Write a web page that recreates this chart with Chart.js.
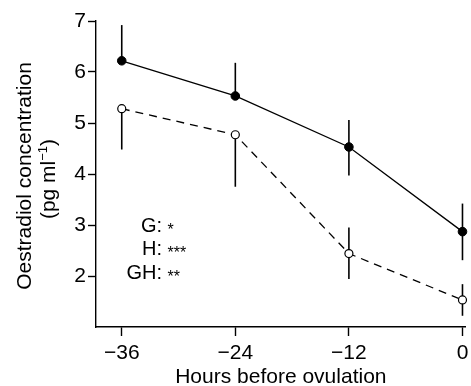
<!DOCTYPE html>
<html>
<head>
<meta charset="utf-8">
<script src="https://cdn.jsdelivr.net/npm/chart.js@4.4.0/dist/chart.umd.min.js"></script>
<style>
  html, body { margin: 0; padding: 0; background: #fff; overflow: hidden; }
  #wrap { width: 471px; height: 386px; position: relative; }
</style>
</head>
<body>
<div id="wrap"><canvas id="chart" width="471" height="386"></canvas></div>
<script>
// hours before ovulation
const hours = [-36, -24, -12, 0];

// filled circles, solid line
const filledMean = [6.22, 5.53, 4.53, 2.87];
const filledHigh = [6.92, 6.18, 5.06, 3.42];
const filledLow = [6.22, 5.53, 3.97, 2.31];

// open circles, dashed line
const openMean = [5.28, 4.77, 2.44, 1.53];
const openHigh = [5.28, 4.77, 2.95, 1.84];
const openLow = [4.48, 3.75, 1.94, 1.22];

const xTicks = [-36, -24, -12, 0];
const yTicks = [2, 3, 4, 5, 6, 7];

const statLabels = ["G:", "H:", "GH:"];
const statStars = ["*", "***", "**"];

const FONT = "'Liberation Sans', Arial, sans-serif";

const toPoints = (ys) => hours.map((h, i) => ({ x: h, y: ys[i] }));
const minusFmt = (v) => (v < 0 ? "\u2212" + Math.abs(v) : String(v));

// vertical error bars, drawn under the markers
const errorBars = {
  id: "errorBars",
  beforeDatasetsDraw(chart) {
    const { ctx, scales: { x, y } } = chart;
    ctx.save();
    ctx.strokeStyle = "#000";
    ctx.lineWidth = 1.6;
    chart.data.datasets.forEach((ds) => {
      ds.errLow.forEach((lo, i) => {
        const hi = ds.errHigh[i];
        if (hi === lo) return;
        const px = x.getPixelForValue(hours[i]);
        ctx.beginPath();
        ctx.moveTo(px, y.getPixelForValue(lo));
        ctx.lineTo(px, y.getPixelForValue(hi));
        ctx.stroke();
      });
    });
    ctx.restore();
  }
};

// y title with superscript, plus the G/H/GH stats text
const extraText = {
  id: "extraText",
  afterDraw(chart) {
    const { ctx, chartArea } = chart;
    ctx.save();
    ctx.fillStyle = "#000";

    // y axis title
    const cy = (chartArea.top + chartArea.bottom) / 2 + 2;
    ctx.translate(25, cy);
    ctx.rotate(-Math.PI / 2);
    ctx.textBaseline = "middle";
    ctx.textAlign = "center";
    ctx.font = "21px " + FONT;
    ctx.fillText("Oestradiol concentration", 0, 0);
    const a = "(pg ml", sup = "\u22121", b = ")";
    const wa = ctx.measureText(a).width, wb = ctx.measureText(b).width;
    ctx.font = "13px " + FONT;
    const ws = ctx.measureText(sup).width;
    let sx = -(wa + ws + wb) / 2 - 3;
    ctx.textAlign = "left";
    ctx.font = "21px " + FONT;
    ctx.fillText(a, sx, 24);
    ctx.font = "13px " + FONT;
    ctx.fillText(sup, sx + wa, 18);
    ctx.font = "21px " + FONT;
    ctx.fillText(b, sx + wa + ws, 24);
    ctx.setTransform(1, 0, 0, 1, 0, 0);

    // stats
    const rows = [231.5, 255, 278.5];
    statLabels.forEach((t, i) => {
      ctx.textBaseline = "alphabetic";
      ctx.textAlign = "right";
      ctx.font = "20px " + FONT;
      ctx.fillText(t, 162, rows[i]);
      ctx.textAlign = "left";
      ctx.font = "16px " + FONT;
      ctx.fillText(statStars[i], 167.5, rows[i] + 3);
    });
    ctx.restore();
  }
};

new Chart(document.getElementById("chart"), {
  type: "line",
  data: {
    datasets: [
      {
        data: toPoints(openMean),
        errLow: openLow,
        errHigh: openHigh,
        borderColor: "#000",
        borderWidth: 1.3,
        borderDash: [8, 6],
        pointRadius: 4,
        pointBorderWidth: 1.2,
        pointBackgroundColor: "#fff",
        pointBorderColor: "#000",
        clip: false
      },
      {
        data: toPoints(filledMean),
        errLow: filledLow,
        errHigh: filledHigh,
        borderColor: "#000",
        borderWidth: 1.3,
        pointRadius: 4.3,
        pointBorderWidth: 1,
        pointBackgroundColor: "#000",
        pointBorderColor: "#000",
        clip: false
      }
    ]
  },
  options: {
    responsive: false,
    animation: false,
    layout: { padding: { top: 21, left: 0, right: 0, bottom: 0 } },
    plugins: { legend: { display: false }, tooltip: { enabled: false } },
    scales: {
      x: {
        type: "linear",
        min: -38.72,
        max: 0.34,
        afterBuildTicks: (axis) => { axis.ticks = xTicks.map((v) => ({ value: v })); },
        afterFit: (axis) => { axis.height = 59; axis.paddingLeft = 0; axis.paddingRight = 0; },
        border: { color: "#000", width: 1.4 },
        grid: { drawOnChartArea: false, drawTicks: true, tickLength: 9, tickColor: "#000", tickWidth: 1.4 },
        ticks: {
          color: "#000",
          padding: 5,
          maxRotation: 0,
          autoSkip: false,
          font: { family: FONT, size: 21 },
          callback: (v) => minusFmt(v)
        },
        title: {
          display: true,
          text: "Hours before ovulation",
          color: "#000",
          padding: { top: 0, bottom: -4 },
          font: { family: FONT, size: 21 }
        }
      },
      y: {
        min: 1,
        max: 7,
        afterBuildTicks: (axis) => { axis.ticks = yTicks.map((v) => ({ value: v })); },
        afterFit: (axis) => { axis.width = 96; axis.paddingTop = 0; axis.paddingBottom = 0; },
        border: { color: "#000", width: 1.4 },
        grid: { drawOnChartArea: false, drawTicks: true, tickLength: 8, tickColor: "#000", tickWidth: 1.4 },
        ticks: {
          color: "#000",
          padding: 2,
          autoSkip: false,
          font: { family: FONT, size: 21 },
          callback: (v) => minusFmt(v)
        }
      }
    }
  },
  plugins: [errorBars, extraText]
});
</script>
</body>
</html>
